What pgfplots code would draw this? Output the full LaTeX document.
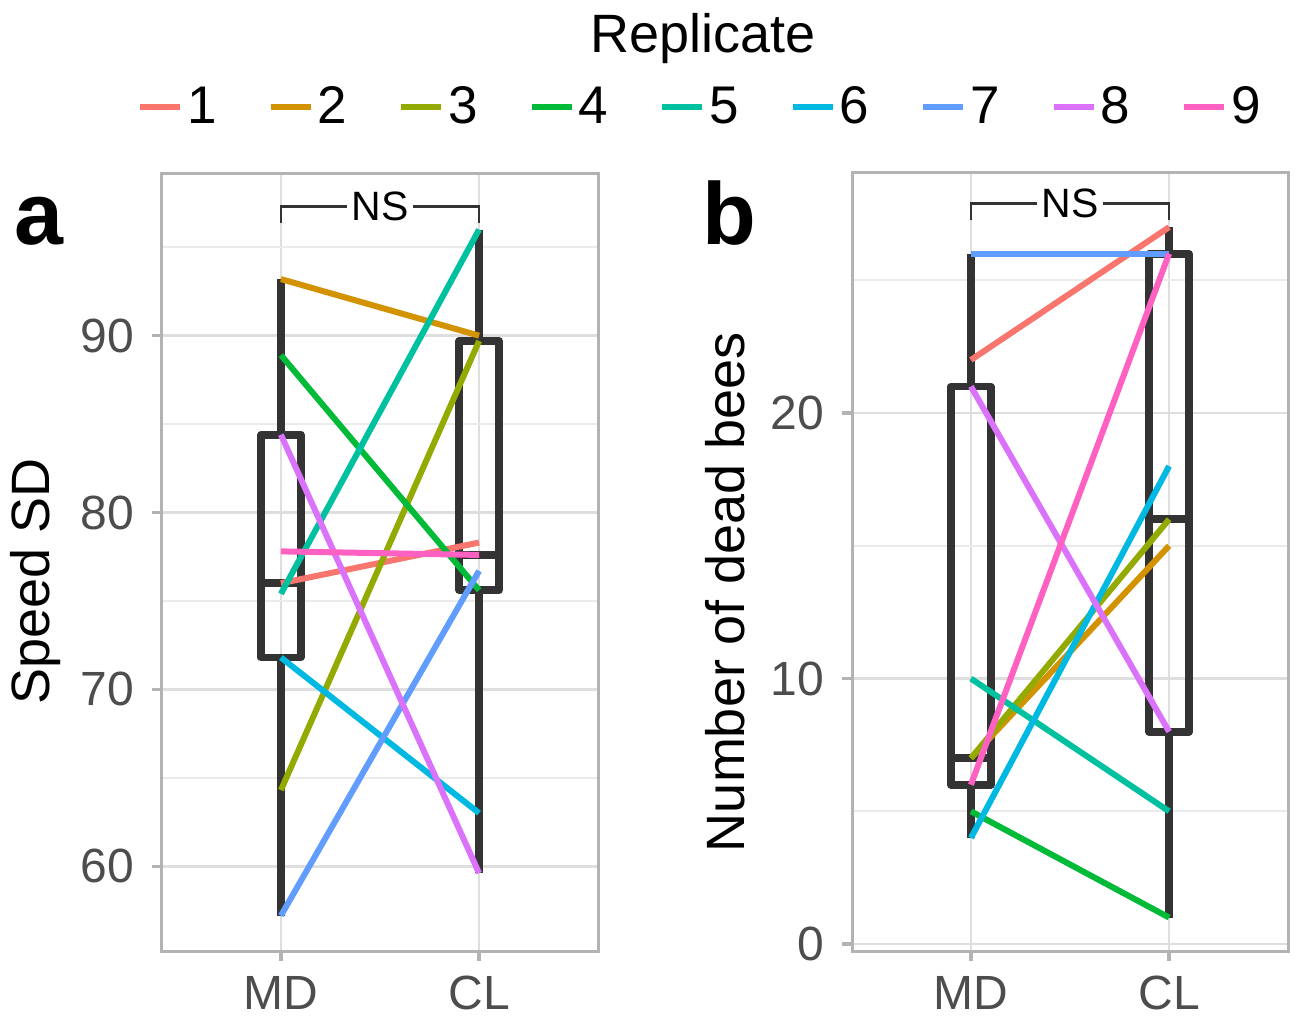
\documentclass[border=0pt]{standalone}
\usepackage{fontspec}
\setmainfont{Liberation Sans}
\usepackage{pgfplots}
\pgfplotsset{compat=1.18}
\definecolor{c1}{HTML}{F8766D}
\definecolor{c2}{HTML}{D39200}
\definecolor{c3}{HTML}{93AA00}
\definecolor{c4}{HTML}{00BA38}
\definecolor{c5}{HTML}{00C19F}
\definecolor{c6}{HTML}{00B9E3}
\definecolor{c7}{HTML}{619CFF}
\definecolor{c8}{HTML}{DB72FB}
\definecolor{c9}{HTML}{FF61C3}
\definecolor{boxc}{HTML}{333333}
\definecolor{gridmaj}{HTML}{DEDEDE}
\definecolor{gridmin}{HTML}{EBEBEB}
\definecolor{bordc}{HTML}{B3B3B3}
\definecolor{tickc}{HTML}{4D4D4D}
\pgfplotsset{
  panel/.style={
    anchor=south west, width=218pt, height=389pt, scale only axis,
    xmin=0.4, xmax=2.6, xtick={1,2}, xticklabels={MD,CL},
    grid=both,
    major grid style={line width=1.4pt, color=gridmaj},
    minor grid style={line width=0.9pt, color=gridmin},
    axis line style={line width=1.5pt, color=bordc},
    tick style={line width=1.6pt, color=bordc},
    major tick length=5pt, minor tick length=0pt, tick align=outside,
    xtick pos=bottom, ytick pos=left,
    ticklabel style={font=\fontsize{24}{24}\selectfont, text=tickc},
    yticklabel style={xshift=-5.5pt},
    xticklabel style={inner sep=0pt, yshift=-7.5pt},
    /pgf/number format/assume math mode=true,
    label style={font=\fontsize{27}{27}\selectfont},
    ylabel style={at={(axis description cs:-0.291,0.475)}, anchor=center},
  },
  bx/.style={boxc, line width=3.9pt, line join=round, forget plot, mark=none},
  ln/.style={line width=3pt},
}
\begin{document}
\begin{tikzpicture}
\useasboundingbox (0,0) rectangle (648.5pt,509.5pt);
% panel a
\begin{axis}[panel, at={(81pt,34pt)},
  ymin=55.2, ymax=99.2, ytick={60,70,80,90}, minor ytick={55,65,75,85,95},
  ylabel={Speed SD},
  legend columns=9,
  legend style={at={(axis description cs:1.236,1.085)}, anchor=center, draw=none, fill=none,
    font=\fontsize{26.5}{26.5}\selectfont,
    /tikz/every even column/.append style={column sep=23.5pt}},
  legend image code/.code={\draw[#1, line width=3pt] (0pt,0pt) -- (20pt,0pt);},
]
% MD box: whiskers 57.2 / 93.2, quartiles 71.8 / 84.4, median 76.0
\addplot[bx] coordinates {(1,84.4) (1,93.2)};
\addplot[bx] coordinates {(1,71.8) (1,57.2)};
\addplot[bx] coordinates {(0.9,71.8) (1.1,71.8) (1.1,84.4) (0.9,84.4)} -- cycle;
\addplot[bx] coordinates {(0.9,76.0) (1.1,76.0)};
% CL box: whiskers 59.6 / 96.0, quartiles 75.6 / 89.7, median 77.6
\addplot[bx] coordinates {(2,89.7) (2,96.0)};
\addplot[bx] coordinates {(2,75.6) (2,59.6)};
\addplot[bx] coordinates {(1.9,75.6) (2.1,75.6) (2.1,89.7) (1.9,89.7)} -- cycle;
\addplot[bx] coordinates {(1.9,77.6) (2.1,77.6)};
\addplot[ln, c1] coordinates {(1,76.0) (2,78.3)}; \addlegendentry{1}
\addplot[ln, c2] coordinates {(1,93.2) (2,90.0)}; \addlegendentry{2}
\addplot[ln, c3] coordinates {(1,64.3) (2,89.7)}; \addlegendentry{3}
\addplot[ln, c4] coordinates {(1,88.9) (2,75.6)}; \addlegendentry{4}
\addplot[ln, c5] coordinates {(1,75.4) (2,96.0)}; \addlegendentry{5}
\addplot[ln, c6] coordinates {(1,71.8) (2,63.0)}; \addlegendentry{6}
\addplot[ln, c7] coordinates {(1,57.2) (2,76.7)}; \addlegendentry{7}
\addplot[ln, c8] coordinates {(1,84.4) (2,59.6)}; \addlegendentry{8}
\addplot[ln, c9] coordinates {(1,77.8) (2,77.6)}; \addlegendentry{9}
\draw[boxc, line width=1.4pt] (axis cs:1,96.4) -- (axis cs:1,97.3) -- (axis cs:2,97.3) -- (axis cs:2,96.4);
\node[fill=white, inner sep=2.5pt, font=\fontsize{20.5}{20.5}\selectfont] at (axis cs:1.5,97.3) {NS};
\end{axis}
% panel b
\begin{axis}[panel, at={(426pt,34pt)},
  ymin=-0.26, ymax=29.04, ytick={0,10,20}, minor ytick={5,15,25},
  ylabel={Number of dead bees},
  ylabel style={at={(axis description cs:-0.291,0.461)}},
]
% MD box: whiskers 4 / 26, quartiles 6 / 21, median 7
\addplot[bx] coordinates {(1,21) (1,26)};
\addplot[bx] coordinates {(1,6) (1,4)};
\addplot[bx] coordinates {(0.9,6) (1.1,6) (1.1,21) (0.9,21)} -- cycle;
\addplot[bx] coordinates {(0.9,7) (1.1,7)};
% CL box: whiskers 1 / 27, quartiles 8 / 26, median 16
\addplot[bx] coordinates {(2,26) (2,27)};
\addplot[bx] coordinates {(2,8) (2,1)};
\addplot[bx] coordinates {(1.9,8) (2.1,8) (2.1,26) (1.9,26)} -- cycle;
\addplot[bx] coordinates {(1.9,16) (2.1,16)};
\addplot[ln, c1] coordinates {(1,22) (2,27)};
\addplot[ln, c2] coordinates {(1,7) (2,15)};
\addplot[ln, c3] coordinates {(1,7) (2,16)};
\addplot[ln, c4] coordinates {(1,5) (2,1)};
\addplot[ln, c5] coordinates {(1,10) (2,5)};
\addplot[ln, c6] coordinates {(1,4) (2,18)};
\addplot[ln, c7] coordinates {(1,26) (2,26)};
\addplot[ln, c8] coordinates {(1,21) (2,8)};
\addplot[ln, c9] coordinates {(1,6) (2,26)};
\draw[boxc, line width=1.4pt] (axis cs:1,27.27) -- (axis cs:1,27.9) -- (axis cs:2,27.9) -- (axis cs:2,27.27);
\node[fill=white, inner sep=2.5pt, font=\fontsize{20.5}{20.5}\selectfont] at (axis cs:1.5,27.9) {NS};
\end{axis}
\node[anchor=base, font=\fontsize{27}{27}\selectfont] at (351.5pt,483pt) {Replicate};
\node[anchor=base west, inner sep=0pt, font=\fontsize{44}{44}\selectfont\bfseries] at (7pt,387pt) {a};
\node[anchor=base west, inner sep=0pt, font=\fontsize{44}{44}\selectfont\bfseries] at (351pt,387pt) {b};
\end{tikzpicture}
\end{document}
